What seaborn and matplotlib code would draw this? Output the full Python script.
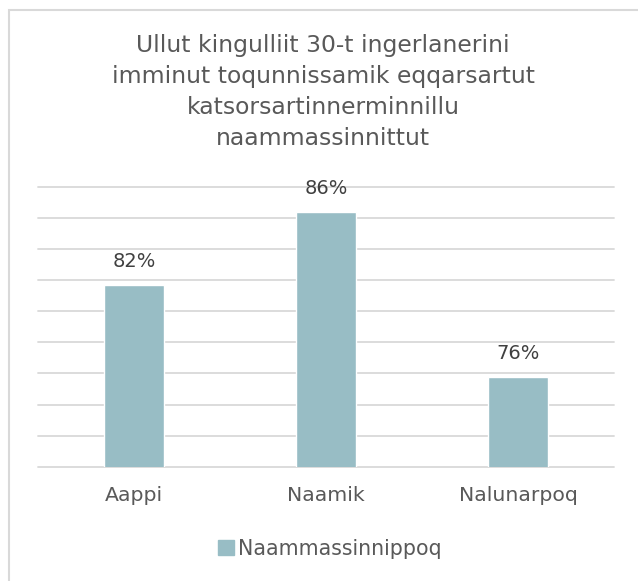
import matplotlib
matplotlib.use("Agg")
import matplotlib.pyplot as plt
import matplotlib.patches as mpatches
import seaborn as sns
import pandas as pd
import numpy as np

# Chart data
regions = ["Aappi", "Naamik", "Nalunarpoq"]
shares = [0.817, 0.864, 0.758]
series_name = "Naammassinnippoq"
title_text = ("Ullut kingulliit 30-t ingerlanerini\n"
              "imminut toqunnissamik eqqarsartut\n"
              "katsorsartinnerminnillu\n"
              "naammassinnittut")

sns.set_theme(style="white")
plt.rcParams["font.family"] = ["DejaVu Sans"]

bar_color = "#98BDC5"
text_color = "#595959"
grid_color = "#D9D9D9"

df = pd.DataFrame({"region": regions, "share": shares})

fig = plt.figure(figsize=(6.38, 5.81), dpi=100)
W, H = 638, 581
ax = fig.add_axes([38 / W, (H - 466.7) / H, (614 - 38) / W, (466.7 - 186.8) / H])

sns.barplot(data=df, x="region", y="share", color=bar_color, width=0.31,
            saturation=1, ax=ax, zorder=3)
if ax.get_legend() is not None:
    ax.get_legend().remove()

ax.set_ylim(0.70, 0.88)
ax.set_yticks(np.arange(0.70, 0.8801, 0.02))
ax.yaxis.grid(True, color=grid_color, linewidth=1.3, zorder=0)
for gl in ax.get_ygridlines():
    gl.set_clip_on(False)
ax.tick_params(axis="y", left=False, labelleft=False)
ax.tick_params(axis="x", bottom=False, labelsize=14.7, colors=text_color, pad=8)
for s in ax.spines.values():
    s.set_visible(False)
ax.set_xlabel("")
ax.set_ylabel("")
ax.set_xlim(-0.5, 2.5)

# value labels above the bars
for cont in ax.containers:
    ax.bar_label(cont, labels=[f"{v * 100:.0f}%" for v in cont.datavalues],
                 padding=10, fontsize=14, color="#404040",
                 family=["Liberation Sans Narrow", "DejaVu Sans"])

fig.text(323 / W, 1 - 92 / H, title_text, ha="center", va="center",
         fontsize=16.9, color=text_color, linespacing=1.46)

handle = mpatches.Patch(color=bar_color, label=series_name)
fig.legend(handles=[handle], loc="center", bbox_to_anchor=(330 / W, 1 - 549 / H),
           frameon=False, fontsize=14.8, labelcolor=text_color,
           handlelength=0.75, handleheight=0.75, handletextpad=0.2)

# chart area border
frame = mpatches.Rectangle((8.5 / W, -0.05), 1.2, 1 - 10.5 / H + 0.05,
                           transform=fig.transFigure, fill=False,
                           edgecolor=grid_color, linewidth=1.5, clip_on=False)
fig.add_artist(frame)

fig.savefig("out.png", dpi=100)
